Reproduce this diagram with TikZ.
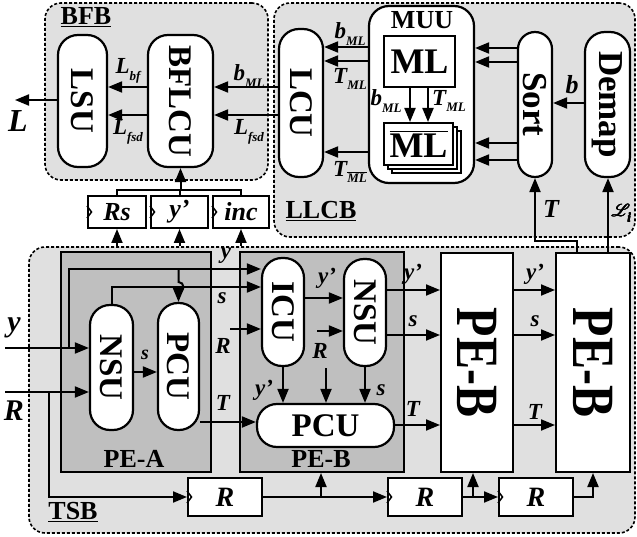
\documentclass[tikz,border=0pt]{standalone}
\usepackage{fontspec}
\setmainfont{Liberation Serif}
\usepackage{mathrsfs}
\usetikzlibrary{arrows.meta}
\definecolor{regfill}{HTML}{E0E0E0}
\definecolor{pefill}{HTML}{BFBFBF}
\newcommand\fsz[1]{\fontsize{#1}{#1}\selectfont}
\newcommand\bi{\bfseries\itshape}
\newcommand\vsub[3][13]{{\bi #2}\raisebox{-0.3em}{\fsz{#1}\bi #3}}
\newcommand\ovl[2]{\vbox{\hrule height #1\kern 1.5pt\hbox{#2}}}
\newcommand\clk[1]{\draw[line width=1.5pt] ([yshift=6pt]#1.west) -- ++(4.5pt,-6pt) -- ++(-4.5pt,-6pt);}
\begin{document}
\begin{tikzpicture}[x=1pt,y=-1pt,
  region/.style={draw, dash pattern=on 3pt off 2pt, line width=1.6pt, rounded corners=16pt, fill=regfill, inner sep=0pt},
  pebox/.style={draw, line width=2pt, fill=pefill, inner sep=0pt},
  pill/.style={draw, line width=2.2pt, fill=white, rounded corners=20pt, inner sep=0pt, font=\fsz{33}\bfseries},
  sqbox/.style={draw, line width=2pt, fill=white, inner sep=0pt, font=\fsz{36}\bfseries},
  regbox/.style={draw, line width=2pt, fill=white, inner sep=0pt, font=\fsz{28}\bi},
  arr/.style={line width=2pt, -{Triangle[length=14pt,width=11pt]}},
  ln/.style={line width=2pt},
  lab/.style={font=\fsz{23}\bi, inner sep=0pt},
  title/.style={font=\fsz{26}\bfseries, inner sep=0pt}]
\useasboundingbox (0,0) rectangle (637,537);
% regions
\node[region, minimum width=223pt, minimum height=177pt] (bfb) at (156.5,91.5) {};
\node[region, minimum width=361pt, minimum height=234pt] (llcb) at (454.5,120) {};
\node[region, minimum width=606pt, minimum height=286pt] (tsb) at (332,390) {};
\node[title] (bfbl) at (86,17) {\underline{BFB}};
\node[title] (llcbl) at (321,211) {\underline{LLCB}};
\node[title] (tsbl) at (73,512) {\underline{TSB}};
% PE boxes
\node[pebox, minimum width=150pt, minimum height=220pt] (pea) at (136,362) {};
\node[pebox, minimum width=164pt, minimum height=220pt] (peb) at (322,362) {};
\node[title] (peal) at (134,459) {PE-A};
\node[title] (pebl) at (321,459) {PE-B};
% BFB
\node[pill, minimum width=49pt, minimum height=132pt] (lsu) at (82.5,101) {\rotatebox{-90}{LSU}};
\node[pill, minimum width=65pt, minimum height=132pt] (bflcu) at (180.5,101) {\rotatebox{-90}{BFLCU}};
% registers
\node[regbox, minimum width=58pt, minimum height=32pt] (rs) at (117,212) {\fsz{26}Rs};
\node[regbox, minimum width=57pt, minimum height=32pt] (yp) at (179.5,212) {\fsz{26}y’};
\node[regbox, minimum width=56pt, minimum height=32pt] (inc) at (241,212) {\fsz{26}inc};
\clk{rs}\clk{yp}\clk{inc}
% LLCB
\node[pill, minimum width=44pt, minimum height=148pt] (lcu) at (301,103) {\rotatebox{-90}{LCU}};
\node[pill, minimum width=105pt, minimum height=177pt] (muu) at (421.5,94.5) {};
\node[font=\fsz{26}\bfseries, inner sep=0pt] (muul) at (422,20) {MUU};
\node[sqbox, minimum width=71pt, minimum height=51pt] (ml) at (419.5,61.5) {ML};
\node[sqbox, minimum width=69pt, minimum height=42pt] (mlb3) at (426.5,152) {};
\node[sqbox, minimum width=69pt, minimum height=42pt] (mlb2) at (422.5,148) {};
\node[sqbox, minimum width=69pt, minimum height=42pt] (mlb) at (418.5,144) {\ovl{1.8pt}{ML}};
\node[pill, rounded corners=17pt, minimum width=34pt, minimum height=145pt, font=\fsz{35}\bfseries] (sort) at (535,104.5) {\rotatebox{-90}{Sort}};
\node[pill, minimum width=45pt, minimum height=145pt, font=\fsz{35}\bfseries] (demap) at (607.5,104.5) {\rotatebox{-90}{Demap}};
% TSB blocks
\node[pill, minimum width=43pt, minimum height=125pt] (nsua) at (111.5,367.5) {\rotatebox{-90}{NSU}};
\node[pill, minimum width=41pt, minimum height=127pt] (pcua) at (178.5,366.5) {\rotatebox{-90}{PCU}};
\node[pill, minimum width=42pt, minimum height=108pt] (icu) at (283,312) {\rotatebox{-90}{ICU}};
\node[pill, minimum width=42pt, minimum height=107pt] (nsub) at (365,312.5) {\rotatebox{-90}{NSU}};
\node[pill, minimum width=137pt, minimum height=43pt] (pcub) at (325.5,425.5) {PCU};
\node[sqbox, minimum width=72pt, minimum height=219pt, font=\fsz{60}\bfseries] (peb1) at (477,362.5) {\rotatebox{-90}{\scalebox{0.8}[1]{PE-B}}};
\node[sqbox, minimum width=74pt, minimum height=219pt, font=\fsz{60}\bfseries] (peb2) at (593,362.5) {\rotatebox{-90}{\scalebox{0.8}[1]{PE-B}}};
\node[regbox, minimum width=74pt, minimum height=38pt] (r1) at (225,497) {R};
\node[regbox, minimum width=74pt, minimum height=38pt] (r2) at (425,497) {R};
\node[regbox, minimum width=74pt, minimum height=38pt] (r3) at (536,497) {R};
\clk{r1}\clk{r2}\clk{r3}
% coordinates
\coordinate (lout) at (15,100);
\coordinate (yin) at (5,348);
\coordinate (rin) at (5,392);
\coordinate (jy) at (69,348);
\coordinate (jr) at (49,392);
\coordinate (rstub1) at (230,329);
\coordinate (rstub2) at (317,331);
\coordinate (rstub3) at (326,368);
% BFB connectors
\draw[arr] (bflcu.west |- 0,87) -- (lsu.east |- 0,87);
\draw[arr] (bflcu.west |- 0,115) -- (lsu.east |- 0,115);
\draw[arr] (lsu.west |- 0,100) -- (lout);
\draw[arr] (lcu.west |- 0,87) -- (bflcu.east |- 0,87);
\draw[arr] (lcu.west |- 0,115) -- (bflcu.east |- 0,115);
\node[lab] at (128,71) {\vsub{L}{bf}};
\node[lab] at (128,132) {\vsub{L}{fsd}};
\node[lab] at (249,76) {\vsub{b}{ML}};
\node[lab] at (249,132) {\vsub{L}{fsd}};
\node[lab, font=\fsz{32}\bi] at (18,121) {L};
% registers to BFLCU
\draw[ln] (rs.north) -- (rs.north |- 0,190) -- (inc.north |- 0,190) -- (inc.north);
\draw[ln] (yp.north) -- (yp.north |- 0,190);
\draw[arr] (bflcu.south |- 0,190) -- (bflcu.south);
\draw[arr] (rs.south |- tsb.north) -- (rs.south);
\draw[arr] (yp.south |- tsb.north) -- (yp.south);
\draw[arr] (inc.south |- tsb.north) -- (inc.south);
% LLCB connectors
\draw[arr] (muu.west |- 0,47) -- (lcu.east |- 0,47);
\draw[arr] (muu.west |- 0,61) -- (lcu.east |- 0,61);
\draw[arr] (muu.west |- 0,152) -- (lcu.east |- 0,152);
\node[lab] at (350,34) {\vsub{b}{ML}};
\node[lab] at (350,79) {\vsub{T}{ML}};
\node[lab] at (350,172) {\vsub{T}{\ovl{1pt}{ML}}};
\draw[arr] (ml.south -| 410,0) -- (mlb.north -| 410,0);
\draw[arr] (ml.south -| 428,0) -- (mlb.north -| 428,0);
\node[lab] at (386,101) {\vsub{b}{ML}};
\node[lab] at (449,101) {\vsub{T}{ML}};
\draw[arr] (sort.west |- 0,48) -- (muu.east |- 0,48);
\draw[arr] (sort.west |- 0,62) -- (muu.east |- 0,62);
\draw[arr] (sort.west |- 0,143) -- (muu.east |- 0,143);
\draw[arr] (sort.west |- 0,160) -- (muu.east |- 0,160);
\draw[arr] (demap.west |- 0,103) -- (sort.east |- 0,103);
\node[lab, font=\fsz{26}\bi] at (572,85) {b};
\draw[arr] (peb2.north -| 577,0) -- (577,241) -- (sort.south |- 0,241) -- (sort.south);
\draw[arr] (peb2.north -| 608,0) -- (demap.south -| 608,0);
\node[lab, font=\fsz{26}\bi] at (551,209) {T};
\foreach \dx/\dy in {0/0,0.6/0,0/0.6,0.6/0.6,0.3/0.3}
  \node[lab, font=\fsz{19}, text=black, anchor=west] (lscr) at (611+\dx,213+\dy) {$\mathscr{L}$\kern-2.5pt\raisebox{-0.3em}{\fsz{13}\bi i}};
% TSB inputs
\draw[arr] (yin) -- (nsua.west |- yin);
\draw[arr] (rin) -- (nsua.west |- rin);
\node[lab, font=\fsz{30}\bi] at (14,328) {y};
\node[lab, font=\fsz{30}\bi] at (14,411) {R};
\draw[arr] (jy) -- (69,269) -- (icu.west |- 0,269);
\draw[arr] (nsua.north) -- (nsua.north |- 0,287) -- (icu.west |- 0,287);
\draw[arr] (178.5,269) -- (178.5,282) arc[start angle=90, end angle=-90, radius=5pt] -- (pcua.north);
\node[lab] at (226,256) {y};
\node[lab] at (222,298) {s};
\draw[arr] (rstub1) -- (icu.west |- rstub1);
\node[lab] at (223,346) {R};
\draw[arr] (nsua.east |- 0,372) -- (pcua.west |- 0,372);
\node[lab, font=\fsz{20}\bi] at (145,355) {s};
\draw[arr] (pcua.east |- 0,422) -- (pcub.west |- 0,422);
\node[lab] at (223,403) {T};
\draw[arr] (jr) -- (49,497) -- (r1.west);
% PE-B internals
\draw[arr] (icu.east |- 0,298) -- (nsub.west |- 0,298);
\node[lab] at (327,278) {y’};
\draw[arr] (rstub2) -- (nsub.west |- rstub2);
\node[lab] at (320,351) {R};
\draw[arr] (rstub3) -- (rstub3 |- pcub.north);
\draw[arr] (icu.south) -- (icu.south |- pcub.north);
\node[lab] at (264,390) {y’};
\draw[arr] (nsub.south) -- (nsub.south |- pcub.north);
\node[lab] at (381,390) {s};
\draw[arr] (nsub.east |- 0,290) -- (peb1.west |- 0,290);
\draw[arr] (nsub.east |- 0,335) -- (peb1.west |- 0,335);
\draw[arr] (pcub.east |- 0,425) -- (peb1.west |- 0,425);
\node[lab] at (413,274) {y’};
\node[lab] at (413,321) {s};
\node[lab] at (413,409) {T};
\draw[arr] (peb1.east |- 0,290) -- (peb2.west |- 0,290);
\draw[arr] (peb1.east |- 0,335) -- (peb2.west |- 0,335);
\draw[arr] (peb1.east |- 0,425) -- (peb2.west |- 0,425);
\node[lab] at (535,274) {y’};
\node[lab] at (535,321) {s};
\node[lab] at (535,412) {T};
% R chain
\draw[arr] (r1.east) -- (r2.west);
\draw[arr] (321,497) -- (peb.south -| 321,0);
\draw[arr] (r2.east) -- (r3.west);
\draw[arr] (473,497) -- (peb1.south -| 473,0);
\draw[arr] (r3.east) -- (593,497) -- (peb2.south);
\end{tikzpicture}
\end{document}
